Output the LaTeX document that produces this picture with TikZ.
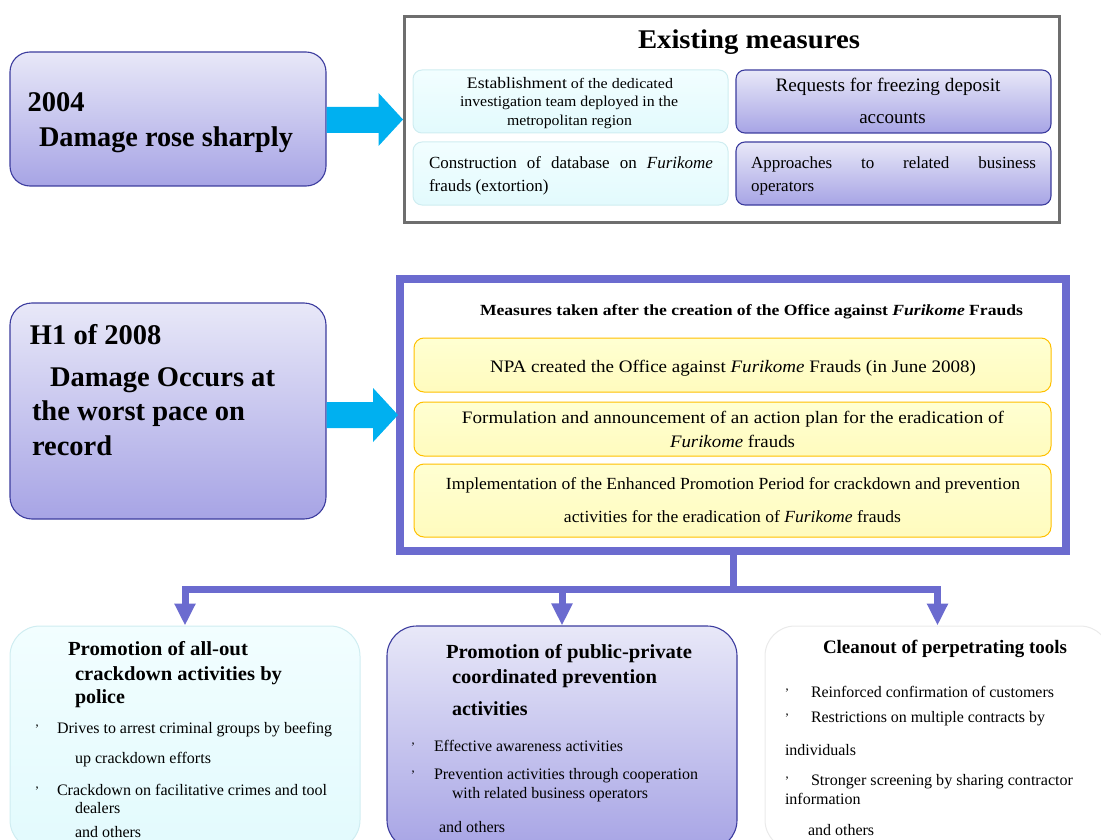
\documentclass[tikz,border=0pt]{standalone}
\usepackage{fontspec}
\setmainfont{Liberation Serif}
\usepackage{graphicx}
\usetikzlibrary{arrows.meta,calc}
\definecolor{lavtop}{HTML}{E8E8F8}
\definecolor{lavbot}{HTML}{A7A4E5}
\definecolor{lavline}{HTML}{3C3C9E}
\definecolor{cytop}{HTML}{F2FEFF}
\definecolor{cybot}{HTML}{E2FAFD}
\definecolor{cyline}{HTML}{CFEDF1}
\definecolor{yeltop}{HTML}{FFFFD2}
\definecolor{yelbot}{HTML}{FFFBBE}
\definecolor{yelline}{HTML}{FFC000}
\definecolor{purp}{HTML}{6B6BCF}
\definecolor{arrcyan}{HTML}{00B0F0}
\definecolor{grayline}{HTML}{6E6E6E}
\definecolor{wline}{HTML}{EAEAEA}
\newcommand{\fitw}[2]{\resizebox{#1pt}{\height}{#2}}
\newcommand{\fs}[1]{\fontsize{#1}{#1}\selectfont}
\begin{document}
\begin{tikzpicture}[x=1pt,y=-1pt,
  lavbox/.style={draw=lavline, line width=1.1pt, top color=lavtop, bottom color=lavbot, inner sep=0},
  cybox/.style={draw=cyline, line width=1pt, top color=cytop, bottom color=cybot, inner sep=0},
  yelbox/.style={draw=yelline, line width=1pt, top color=yeltop, bottom color=yelbot, rounded corners=10pt, inner sep=0},
  whbox/.style={draw=wline, line width=1pt, fill=white, rounded corners=30pt, inner sep=0},
  txt/.style={inner sep=0, outer sep=0, anchor=base west},
  ctxt/.style={inner sep=0, outer sep=0, anchor=base},
  blockarr/.style={fill=arrcyan},
  conn/.style={draw=purp, line width=7pt, line join=miter},
  connarr/.style={conn, -{Triangle[width=20pt,length=22pt]}},
  bul/.style={inner sep=0, outer sep=0, anchor=base, font=\fs{13}}
]
\useasboundingbox (0,0) rectangle (1101,840);
\begin{scope}
\clip (0,0) rectangle (1101,840);

% ---------- top row ----------
\node[lavbox, rounded corners=20pt, minimum width=316pt, minimum height=134pt] (A) at (168,119) {};
\node[txt] (a1) at (27.5,112) {\fs{28.5}\bfseries 2004};
\node[txt] (a2) at (39,147) {\fitw{254}{\fs{28.5}\bfseries Damage rose sharply}};

\node[draw=grayline, line width=3pt, minimum width=655pt, minimum height=206pt, inner sep=0] (EM) at (732,119.5) {};
\node[ctxt] (emt) at (749,49) {\fitw{222}{\fs{27}\bfseries Existing measures}};

\node[cybox, rounded corners=9pt, minimum width=315pt, minimum height=63pt] (B1) at (570.5,101.5) {};
\node[cybox, rounded corners=9pt, minimum width=315pt, minimum height=63pt] (B2) at (570.5,173.5) {};
\node[lavbox, rounded corners=9pt, minimum width=315pt, minimum height=63pt] (B3) at (893.5,101.5) {};
\node[lavbox, rounded corners=9pt, minimum width=315pt, minimum height=63pt] (B4) at (893.5,173.5) {};

\node[ctxt] (b1a) at (570,89) {\fitw{206}{\fs{16}Establishment\fs{14.5} of the dedicated}};
\node[ctxt] (b1b) at (569,107) {\fitw{218}{\fs{15}investigation team deployed in the}};
\node[ctxt] (b1c) at (569.5,126) {\fitw{125}{\fs{15}metropolitan region}};

\node[txt] (b2a) at (429,169) {\fs{17}\makebox[284pt][s]{Construction of database on \textit{Furikome}}};
\node[txt] (b2b) at (429,192) {\fs{17}frauds (extortion)};

\node[ctxt] (b3a) at (888,92) {\fitw{225}{\fs{19}Requests for freezing deposit}};
\node[ctxt] (b3b) at (892.5,124) {\fs{19}accounts};

\node[txt] (b4a) at (751,169) {\fs{17}\makebox[285pt][s]{Approaches to related business}};
\node[txt] (b4b) at (751,192) {\fs{17}operators};

\fill[blockarr] ($(A.east)+(0,-12)$) -- ($(A.east)+(52,-12)$) -- ($(A.east)+(52,-26)$)
  -- (EM.west) -- ($(A.east)+(52,27)$) -- ($(A.east)+(52,14)$) -- ($(A.east)+(0,14)$) -- cycle;

% ---------- middle row ----------
\node[lavbox, rounded corners=22pt, minimum width=316pt, minimum height=216pt] (C) at (168,411) {};
\node[txt] (c1) at (30,344) {\fs{28.5}\bfseries H1 of 2008};
\node[txt] (c2) at (50,386) {\fitw{225}{\fs{28.5}\bfseries Damage Occurs at}};
\node[txt] (c3) at (32,420) {\fs{28.5}\bfseries the worst pace on};
\node[txt] (c4) at (32,455) {\fs{28.5}\bfseries record};

\node[draw=purp, fill=white, line width=8pt, minimum width=666pt, minimum height=272pt, inner sep=0] (D) at (733,415) {};
\node[txt] (dt) at (480,315) {\fitw{543}{\fs{15.5}\bfseries Measures taken after the creation of the Office against \textit{Furikome} Frauds}};

\node[yelbox, minimum width=637pt, minimum height=54pt] (Y1) at (732.5,365) {};
\node[yelbox, minimum width=637pt, minimum height=54pt] (Y2) at (732.5,429) {};
\node[yelbox, minimum width=637pt, minimum height=73pt] (Y3) at (732.5,500.5) {};

\node[ctxt] (y1) at (733,372) {\fitw{486}{\fs{17.5}NPA created the Office against \textit{Furikome} Frauds (in June 2008)}};
\node[ctxt] (y2a) at (733,423) {\fitw{542}{\fs{17.5}Formulation and announcement of an action plan for the eradication of}};
\node[ctxt] (y2b) at (732.5,447) {\fitw{125}{\fs{17.5}\textit{Furikome} frauds}};
\node[ctxt] (y3a) at (733,489) {\fitw{574}{\fs{17}Implementation of the Enhanced Promotion Period for crackdown and prevention}};
\node[ctxt] (y3b) at (732.5,522) {\fitw{337}{\fs{17}activities for the eradication of \textit{Furikome} frauds}};

\fill[blockarr] ($(C.east)+(0,-9)$) -- ($(C.east)+(46.5,-9)$) -- ($(C.east)+(46.5,-23)$)
  -- ($(D.west)+(2,0)$) -- ($(C.east)+(46.5,31)$) -- ($(C.east)+(46.5,17)$) -- ($(C.east)+(0,17)$) -- cycle;

% ---------- bottom row ----------
\node[cybox, rounded corners=30pt, minimum width=350pt, minimum height=224pt] (E1) at (185,738) {};
\node[lavbox, rounded corners=30pt, minimum width=350pt, minimum height=224pt] (E2) at (562,738) {};
\node[whbox, minimum width=345pt, minimum height=224pt] (E3) at (937.5,738) {};

\coordinate (J) at ($(D.south)+(0,34.5)$);
\draw[conn] (D.south) -- (J);
\draw[connarr] (J) -| (E1.north);
\draw[connarr] (J) -| (E2.north);
\draw[connarr] (J) -| (E3.north);

% E1 text
\node[txt] (e1a) at (68,655) {\fitw{180}{\fs{20}\bfseries Promotion of all-out}};
\node[txt] (e1b) at (75,680) {\fitw{207}{\fs{20}\bfseries crackdown activities by}};
\node[txt] (e1c) at (75,703) {\fs{20}\bfseries police};
\node[bul] (e1p1) at (37,733) {'};
\node[txt] (e1d) at (57,733) {\fitw{275}{\fs{16}Drives to arrest criminal groups by beefing}};
\node[txt] (e1e) at (75,763) {\fitw{136}{\fs{16}up crackdown efforts}};
\node[bul] (e1p2) at (37,795) {'};
\node[txt] (e1f) at (57,795) {\fitw{270}{\fs{16}Crackdown on facilitative crimes and tool}};
\node[txt] (e1g) at (75,813) {\fs{16}dealers};
\node[txt] (e1h) at (75,837) {\fs{16}and others};

% E2 text
\node[txt] (e2a) at (446,658) {\fitw{246}{\fs{20}\bfseries Promotion of public-private}};
\node[txt] (e2b) at (452,683) {\fitw{205}{\fs{20}\bfseries coordinated prevention}};
\node[txt] (e2c) at (452,715) {\fs{20}\bfseries activities};
\node[bul] (e2p1) at (413,751) {'};
\node[txt] (e2d) at (434,751) {\fitw{189}{\fs{16}Effective awareness activities}};
\node[bul] (e2p2) at (413,779) {'};
\node[txt] (e2e) at (434,779) {\fitw{264}{\fs{16}Prevention activities through cooperation}};
\node[txt] (e2f) at (452,798) {\fitw{196}{\fs{16}with related business operators}};
\node[txt] (e2g) at (439,832) {\fs{16}and others};

% E3 text
\node[txt] (e3a) at (823,653) {\fitw{244}{\fs{19}\bfseries Cleanout of perpetrating tools}};
\node[bul] (e3p1) at (787,697) {'};
\node[txt] (e3b) at (811,697) {\fitw{243}{\fs{16}Reinforced confirmation of customers}};
\node[bul] (e3p2) at (787,722) {'};
\node[txt] (e3c) at (811,722) {\fitw{234}{\fs{16}Restrictions on multiple contracts by}};
\node[txt] (e3d) at (785,755) {\fs{16}individuals};
\node[bul] (e3p3) at (787,785) {'};
\node[txt] (e3e) at (811,785) {\fitw{262}{\fs{16}Stronger screening by sharing contractor}};
\node[txt] (e3f) at (785,804) {\fs{16}information};
\node[txt] (e3g) at (808,835) {\fs{16}and others};
\end{scope}
\end{tikzpicture}
\end{document}
